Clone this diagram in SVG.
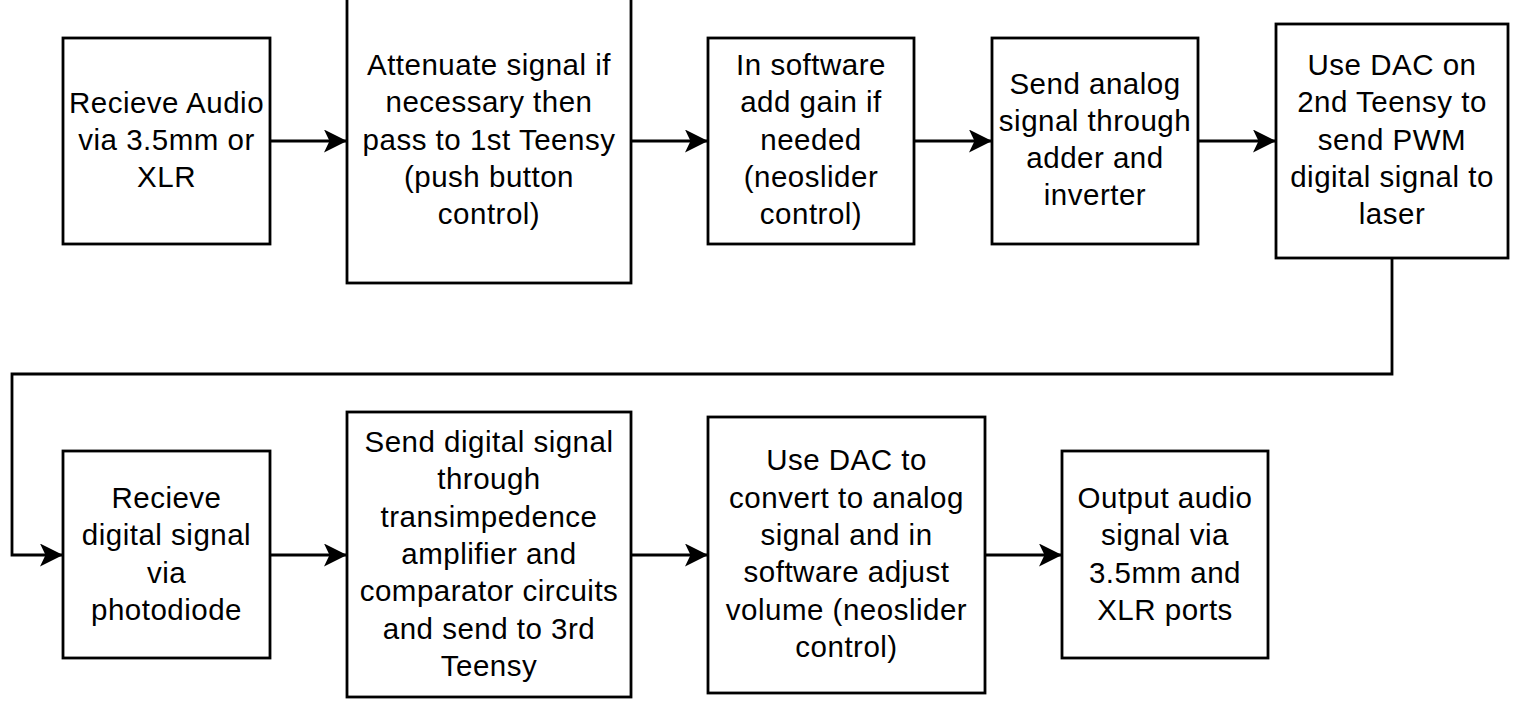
<svg xmlns="http://www.w3.org/2000/svg" width="1519" height="718" viewBox="0 0 1519 718">
<style>
.box{fill:#fff;stroke:#000;stroke-width:2.8}
.lbl{font-family:"Liberation Sans",Arial,sans-serif;font-size:29.5px;letter-spacing:0.5px;fill:#000;text-anchor:middle}
.con{fill:none;stroke:#000;stroke-width:2.8}
</style>
<defs>
<marker id="arr" markerUnits="userSpaceOnUse" markerWidth="26" markerHeight="26" refX="22" refY="11.5" orient="auto">
<path d="M0,0 L23,11.5 L0,23 L5.5,11.5 Z" fill="#000"/>
</marker>
</defs>
<rect width="1519" height="718" fill="#fff"/>
<g id="connectors">
<path class="con" d="M270,141 H346" marker-end="url(#arr)"/>
<path class="con" d="M631,141 H707" marker-end="url(#arr)"/>
<path class="con" d="M914,141 H991" marker-end="url(#arr)"/>
<path class="con" d="M1198,141 H1275" marker-end="url(#arr)"/>
<path class="con" d="M1392,258 V374 H12 V555 H62" marker-end="url(#arr)"/>
<path class="con" d="M270,555 H346" marker-end="url(#arr)"/>
<path class="con" d="M631,555 H707" marker-end="url(#arr)"/>
<path class="con" d="M985,555 H1061" marker-end="url(#arr)"/>
</g>
<g id="n1">
<rect class="box" x="63" y="38" width="207" height="206"/>
<text class="lbl"><tspan x="166.5" y="113">Recieve Audio</tspan><tspan x="166.5" y="150">via 3.5mm or</tspan><tspan x="166.5" y="187">XLR</tspan></text>
</g>
<g id="n2">
<rect class="box" x="347" y="-3" width="284" height="286"/>
<text class="lbl"><tspan x="489" y="75">Attenuate signal if</tspan><tspan x="489" y="112">necessary then</tspan><tspan x="489" y="150">pass to 1st Teensy</tspan><tspan x="489" y="187">(push button</tspan><tspan x="489" y="224">control)</tspan></text>
</g>
<g id="n3">
<rect class="box" x="708" y="38" width="206" height="206"/>
<text class="lbl"><tspan x="811" y="75">In software</tspan><tspan x="811" y="112">add gain if</tspan><tspan x="811" y="150">needed</tspan><tspan x="811" y="187">(neoslider</tspan><tspan x="811" y="224">control)</tspan></text>
</g>
<g id="n4">
<rect class="box" x="992" y="38" width="206" height="206"/>
<text class="lbl"><tspan x="1095" y="94">Send analog</tspan><tspan x="1095" y="131">signal through</tspan><tspan x="1095" y="168">adder and</tspan><tspan x="1095" y="205">inverter</tspan></text>
</g>
<g id="n5">
<rect class="box" x="1276" y="24" width="232" height="234"/>
<text class="lbl"><tspan x="1392" y="75">Use DAC on</tspan><tspan x="1392" y="112">2nd Teensy to</tspan><tspan x="1392" y="150">send PWM</tspan><tspan x="1392" y="187">digital signal to</tspan><tspan x="1392" y="224">laser</tspan></text>
</g>
<g id="n6">
<rect class="box" x="63" y="451" width="207" height="207"/>
<text class="lbl"><tspan x="166.5" y="508">Recieve</tspan><tspan x="166.5" y="545">digital signal</tspan><tspan x="166.5" y="583">via</tspan><tspan x="166.5" y="620">photodiode</tspan></text>
</g>
<g id="n7">
<rect class="box" x="347" y="412" width="284" height="285"/>
<text class="lbl"><tspan x="489" y="452">Send digital signal</tspan><tspan x="489" y="489">through</tspan><tspan x="489" y="527">transimpedence</tspan><tspan x="489" y="564">amplifier and</tspan><tspan x="489" y="601">comparator circuits</tspan><tspan x="489" y="639">and send to 3rd</tspan><tspan x="489" y="676">Teensy</tspan></text>
</g>
<g id="n8">
<rect class="box" x="708" y="417" width="277" height="276"/>
<text class="lbl"><tspan x="846.5" y="470">Use DAC to</tspan><tspan x="846.5" y="508">convert to analog</tspan><tspan x="846.5" y="545">signal and in</tspan><tspan x="846.5" y="582">software adjust</tspan><tspan x="846.5" y="620">volume (neoslider</tspan><tspan x="846.5" y="657">control)</tspan></text>
</g>
<g id="n9">
<rect class="box" x="1062" y="451" width="206" height="207"/>
<text class="lbl"><tspan x="1165" y="508">Output audio</tspan><tspan x="1165" y="545">signal via</tspan><tspan x="1165" y="583">3.5mm and</tspan><tspan x="1165" y="620">XLR ports</tspan></text>
</g>
</svg>
